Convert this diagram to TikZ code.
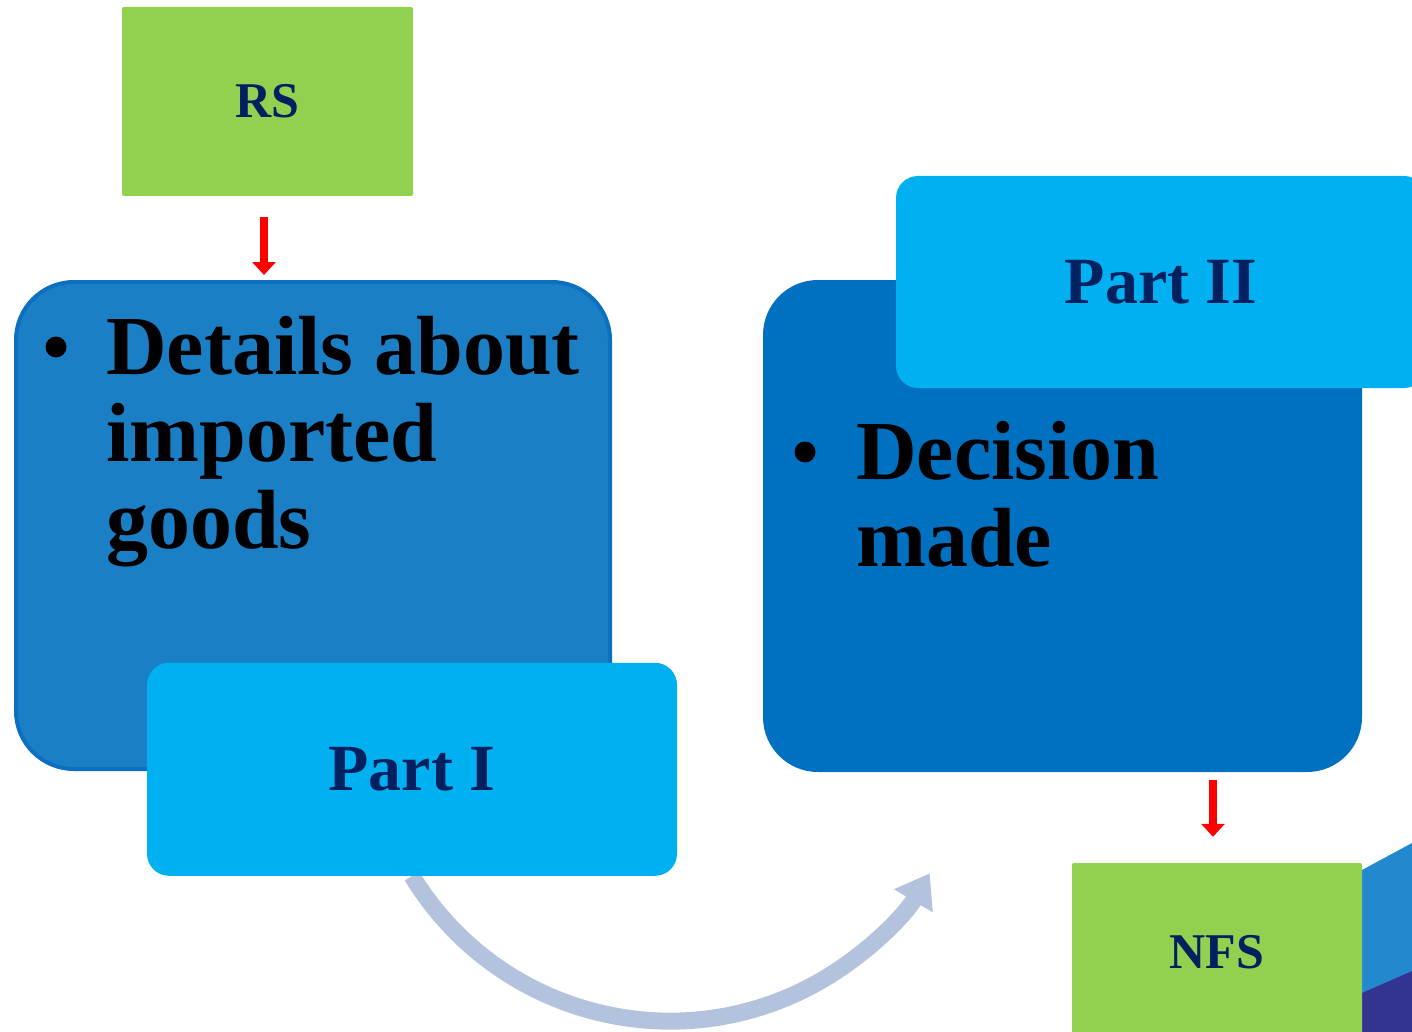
\documentclass[tikz,border=0pt]{standalone}
\usepackage{fontspec}
\setmainfont{Liberation Serif}
\usetikzlibrary{arrows.meta}
\definecolor{grn}{HTML}{92D050}
\definecolor{navy}{HTML}{002060}
\definecolor{lblue}{HTML}{00B0F0}
\definecolor{mblue}{HTML}{0070C0}
\definecolor{boxblue}{HTML}{1B7FC6}
\definecolor{boxedge}{HTML}{0B70C0}
\definecolor{arcblue}{HTML}{B3C3DE}
\definecolor{decoblue}{HTML}{2389CE}
\definecolor{decoindigo}{HTML}{333391}
\begin{document}
\begin{tikzpicture}[x=1pt,y=-1pt,
  greenbox/.style={fill=grn, rounded corners=2pt, inner sep=0pt, text=navy,
    font=\fontsize{50}{55}\selectfont\bfseries},
  partbox/.style={fill=lblue, rounded corners=22pt, inner sep=0pt, text=navy,
    font=\fontsize{66}{70}\selectfont\bfseries},
  bigtext/.style={inner sep=0pt, anchor=base west, text=black,
    font=\fontsize{84}{87}\selectfont\bfseries},
  bulletdot/.style={circle, fill=black, inner sep=0pt, minimum size=21pt},
  redarrow/.style={draw=red, line width=8pt, -{Triangle[length=13pt,width=23pt]}},
  arcarrow/.style={draw=arcblue, line width=17pt, -{Triangle[length=32pt,width=43pt]}}
]
\useasboundingbox (0,0) rectangle (1412,1032);
\fill[white] (0,0) rectangle (1412,1032);
\clip (0,0) rectangle (1412,1032);

% decoration bottom right
\fill[decoblue] (1362,870) -- (1412,843) -- (1412,1032) -- (1362,1032) -- cycle;
\fill[decoindigo] (1362,993) -- (1412,971) -- (1412,1032) -- (1362,1032) -- cycle;

% RS
\node[greenbox, minimum width=291pt, minimum height=189pt] (rs) at (267.5,101.5) {RS};

% left big box
\node[draw=boxedge, line width=4pt, fill=boxblue, rounded corners=58pt,
      minimum width=594pt, minimum height=487pt] (leftbox) at (313,525.5) {};
\node[bulletdot] (bulA) at (56,347) {};
\node[bigtext] (detA) at (106,374) {Details about};
\node[bigtext] (detB) at (106,461) {imported};
\node[bigtext] (detC) at (106,548) {goods};

% curved arrow (drawn before Part I box so it goes under it)
\coordinate (cs) at (412,876);
\draw[arcarrow] (cs) arc[start angle=148.7, end angle=30.7, radius=302];

% Part I
\node[partbox, anchor=south, minimum width=530pt, minimum height=213pt] (partI) at (cs) {Part I};

% right big box
\node[fill=mblue, rounded corners=55pt, minimum width=599pt, minimum height=492pt] (rightbox) at (1062.5,526) {};
\node[partbox, minimum width=530pt, minimum height=212pt] (partII) at (1161,282) {Part II};
\node[bulletdot] (bulB) at (805,452) {};
\node[bigtext] (decA) at (856,479) {Decision};
\node[bigtext] (decB) at (856,566) {made};

% NFS
\node[greenbox, minimum width=290pt, minimum height=178pt] (nfs) at (1217,952) {NFS};

% red arrows
\draw[redarrow] ([yshift=-21pt]rs.south -| 264,0) -- ([yshift=5pt]leftbox.north -| 264,0);
\draw[redarrow] ([yshift=-8pt]rightbox.south -| 1213,0) -- ([yshift=26pt]nfs.north -| 1213,0);
\end{tikzpicture}
\end{document}
